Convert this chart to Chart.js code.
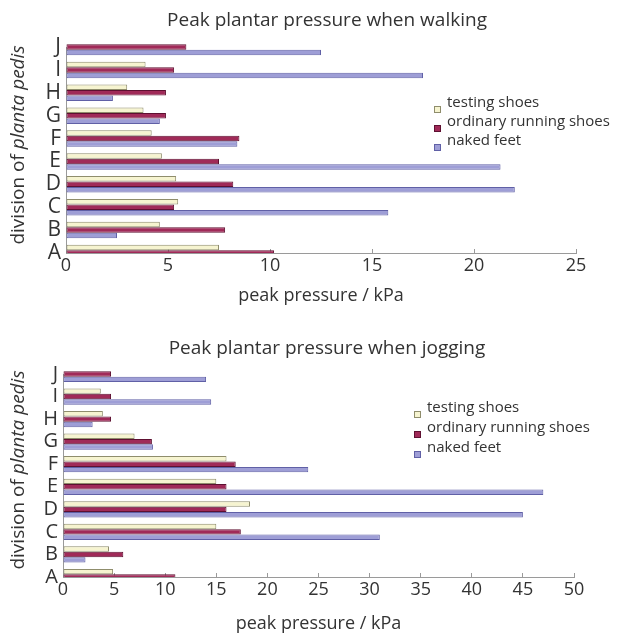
<!DOCTYPE html>
<html>
<head>
<meta charset="utf-8">
<script src="https://cdn.jsdelivr.net/npm/chart.js@4.4.0/dist/chart.umd.min.js"></script>
<style>
  body { margin: 0; background: #fff; }
  #wrap { position: relative; width: 629px; height: 635px; font-family: 'Open Sans', sans-serif; color: #333; }
  .box { position: absolute; left: 0; width: 629px; }
  .ytitle {
    position: absolute; left: 17px; white-space: nowrap; font-size: 19px;
    transform: translate(-50%, -50%) rotate(-90deg);
  }
</style>
</head>
<body>
<div id="wrap">
  <div class="box" style="top:0;height:320px"><canvas id="walkChart" width="629" height="320"></canvas></div>
  <div class="box" style="top:320px;height:315px"><canvas id="jogChart" width="629" height="315"></canvas></div>
  <div class="ytitle" style="top:145px">division of <i>planta pedis</i></div>
  <div class="ytitle" style="top:470px">division of <i>planta pedis</i></div>
</div>
<script>
const divisions = ['A', 'B', 'C', 'D', 'E', 'F', 'G', 'H', 'I', 'J'];
const seriesNames = ['testing shoes', 'ordinary running shoes', 'naked feet'];

// walking, kPa (A..J)
const walkTesting  = [7.5, 4.6, 5.5, 5.4, 4.7, 4.2, 3.8, 3.0, 3.9, 0];
const walkOrdinary = [10.2, 7.8, 5.3, 8.2, 7.5, 8.5, 4.9, 4.9, 5.3, 5.9];
const walkNaked    = [0, 2.5, 15.8, 22.0, 21.3, 8.4, 4.6, 2.3, 17.5, 12.5];
const walkTicks = [0, 5, 10, 15, 20, 25];

// jogging, kPa (A..J)
const jogTesting  = [4.9, 4.5, 15.0, 18.3, 15.0, 16.0, 7.0, 3.9, 3.7, 0];
const jogOrdinary = [11.0, 5.9, 17.4, 16.0, 16.0, 16.9, 8.7, 4.7, 4.7, 4.7];
const jogNaked    = [0, 2.2, 31.0, 45.0, 47.0, 24.0, 8.8, 2.9, 14.5, 14.0];
const jogTicks = [0, 5, 10, 15, 20, 25, 30, 35, 40, 45, 50];

const fills = ['#f6f4d0', '#a02a58', '#9e9ed6'];
const borders = ['#8f8d6c', '#5e1031', '#6060a6'];

// draws the title and the in-plot legend
const decor = {
    id: 'decor',
    afterDraw(chart, args, o) {
        const ctx = chart.ctx;
        ctx.save();
        ctx.fillStyle = '#333';
        ctx.textBaseline = 'middle';
        ctx.textAlign = 'center';
        ctx.font = '19px "Open Sans"';
        ctx.fillText(o.title, o.titleX, o.titleY);
        ctx.textAlign = 'left';
        ctx.font = '15px "Open Sans"';
        chart.data.datasets.forEach((ds, i) => {
            const y = o.legY + i * o.legGap;
            ctx.fillStyle = ds.backgroundColor;
            ctx.strokeStyle = ds.borderColor;
            ctx.lineWidth = 1;
            ctx.fillRect(o.legX, y + 1, 6, 6);
            ctx.strokeRect(o.legX + 0.5, y + 1.5, 6, 6);
            ctx.fillStyle = '#333';
            ctx.fillText(ds.label, o.legX + 13, y - 2);
        });
        ctx.restore();
    }
};

function buildChart(canvasId, values, ticks, xMax, lay) {
    const ctx = document.getElementById(canvasId).getContext('2d');
    return new Chart(ctx, {
        type: 'bar',
        data: {
            labels: divisions,
            datasets: values.map((v, i) => ({
                label: seriesNames[i],
                data: v,
                backgroundColor: fills[i],
                borderColor: borders[i],
                borderWidth: 1,
                borderSkipped: false,
                categoryPercentage: 0.72,
                barPercentage: 1.0,
                clip: { left: false, top: 10, right: false, bottom: 0 }
            }))
        },
        options: {
            indexAxis: 'y',
            responsive: false,
            animation: false,
            layout: { padding: { top: lay.top, right: lay.right, left: 0, bottom: 0 } },
            scales: {
                y: {
                    reverse: true,
                    offset: false,
                    grid: { display: false, drawTicks: false },
                    border: { color: '#9a9a9a' },
                    ticks: { color: '#333', padding: 5, autoSkip: false, font: { family: 'Open Sans', size: lay.catSize } },
                    afterFit: s => { s.width = lay.left; }
                },
                x: {
                    min: 0,
                    max: xMax,
                    afterBuildTicks: s => { s.ticks = ticks.map(t => ({ value: t })); },
                    grid: { display: true, drawOnChartArea: false, drawTicks: true, tickLength: -4, color: '#9a9a9a' },
                    border: { color: '#9a9a9a' },
                    ticks: { color: '#333', padding: lay.tickPad, autoSkip: false, font: { family: 'Open Sans', size: lay.tickSize } },
                    title: {
                        display: true, text: 'peak pressure / kPa', color: '#333',
                        font: { family: 'Open Sans', size: 18 }, padding: { top: 0, bottom: lay.axTitlePad }
                    },
                    afterFit: s => { s.height = lay.bottom; }
                }
            },
            plugins: {
                legend: { display: false },
                tooltip: { enabled: false },
                decor: lay.decor
            }
        },
        plugins: [decor]
    });
}

buildChart('walkChart', [walkTesting, walkOrdinary, walkNaked], walkTicks, 25, {
    top: 47, right: 53, left: 66, bottom: 67, catSize: 21, tickSize: 18, tickPad: 6, axTitlePad: 13,
    decor: { title: 'Peak plantar pressure when walking', titleX: 327, titleY: 21, legX: 434, legY: 105, legGap: 19 }
});

buildChart('jogChart', [jogTesting, jogOrdinary, jogNaked], jogTicks, 50, {
    top: 54, right: 55, left: 63, bottom: 58, catSize: 20, tickSize: 18, tickPad: 6, axTitlePad: 0,
    decor: { title: 'Peak plantar pressure when jogging', titleX: 327, titleY: 29, legX: 414, legY: 90, legGap: 20 }
});
</script>
</body>
</html>
